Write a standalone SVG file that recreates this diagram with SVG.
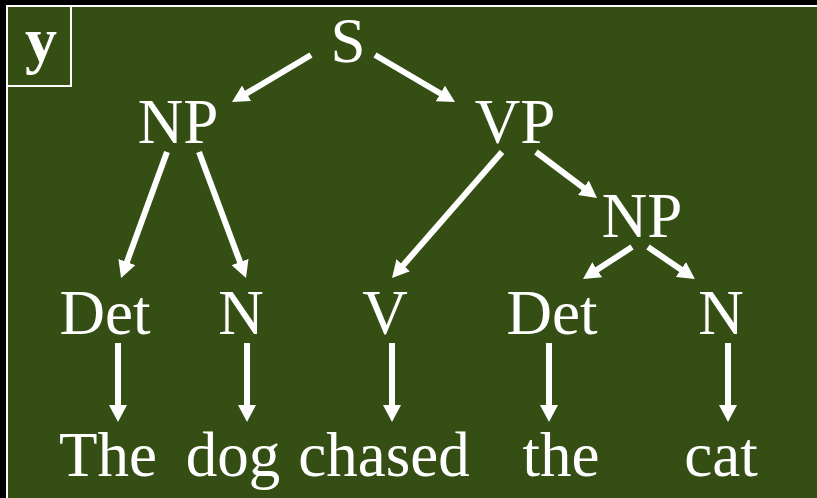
<svg xmlns="http://www.w3.org/2000/svg" width="817" height="498" viewBox="0 0 817 498">
  <defs>
    <style>
      .lbl { font-family: "Liberation Serif", "Times New Roman", serif; font-size: 63px; fill: #ffffff; text-anchor: middle; }
      .tag { font-family: "Liberation Serif", "Times New Roman", serif; font-size: 64px; font-weight: bold; fill: #ffffff; text-anchor: middle; }
      .edge { stroke: #ffffff; stroke-width: 6; fill: none; marker-end: url(#head); }
    </style>
    <marker id="head" markerUnits="userSpaceOnUse" markerWidth="18" markerHeight="18" refX="9" refY="9" orient="auto">
      <path d="M0,0 L17,9 L0,18 z" fill="#ffffff"/>
    </marker>
  </defs>

  <!-- frame -->
  <rect x="0" y="0" width="817" height="498" fill="#000000"/>
  <rect x="6" y="5" width="811" height="493" fill="#ffffff"/>
  <rect x="8" y="7" width="809" height="491" fill="#354e14"/>

  <!-- corner tag -->
  <g id="tag">
    <rect x="7" y="6" width="64" height="80" fill="none" stroke="#ffffff" stroke-width="2"/>
    <text class="tag" x="41" y="61">y</text>
  </g>

  <!-- connectors -->
  <g id="edges">
    <line class="edge" x1="311" y1="55" x2="238.9" y2="97.9"/>
    <line class="edge" x1="375" y1="55" x2="448.1" y2="98"/>
    <line class="edge" x1="167" y1="152" x2="123.8" y2="270.5"/>
    <line class="edge" x1="199" y1="152" x2="243.2" y2="270.5"/>
    <line class="edge" x1="502" y1="152" x2="397.3" y2="272"/>
    <line class="edge" x1="536" y1="152" x2="590.6" y2="193.2"/>
    <line class="edge" x1="632" y1="247" x2="589.7" y2="274.6"/>
    <line class="edge" x1="648" y1="247" x2="688.3" y2="274.6"/>
    <line class="edge" x1="118" y1="343" x2="118" y2="414"/>
    <line class="edge" x1="247" y1="343" x2="247" y2="414"/>
    <line class="edge" x1="392" y1="343" x2="392" y2="414"/>
    <line class="edge" x1="549" y1="343" x2="549" y2="414"/>
    <line class="edge" x1="728" y1="343" x2="728" y2="414"/>
  </g>

  <!-- phrase nodes -->
  <g id="S"><text class="lbl" x="348" y="62">S</text></g>
  <g id="NP1"><text class="lbl" x="178" y="143">NP</text></g>
  <g id="VP"><text class="lbl" x="515" y="143">VP</text></g>
  <g id="NP2"><text class="lbl" x="642" y="237">NP</text></g>

  <!-- part-of-speech nodes -->
  <g id="Det1"><text class="lbl" x="105" y="334">Det</text></g>
  <g id="N1"><text class="lbl" x="241" y="334">N</text></g>
  <g id="V"><text class="lbl" x="385" y="334">V</text></g>
  <g id="Det2"><text class="lbl" x="552" y="334">Det</text></g>
  <g id="N2"><text class="lbl" x="721" y="334">N</text></g>

  <!-- words -->
  <g id="w-the1"><text class="lbl" x="108" y="476">The</text></g>
  <g id="w-dog"><text class="lbl" x="233" y="476">dog</text></g>
  <g id="w-chased"><text class="lbl" x="384" y="476">chased</text></g>
  <g id="w-the2"><text class="lbl" x="561" y="476">the</text></g>
  <g id="w-cat"><text class="lbl" x="721" y="476">cat</text></g>
</svg>
